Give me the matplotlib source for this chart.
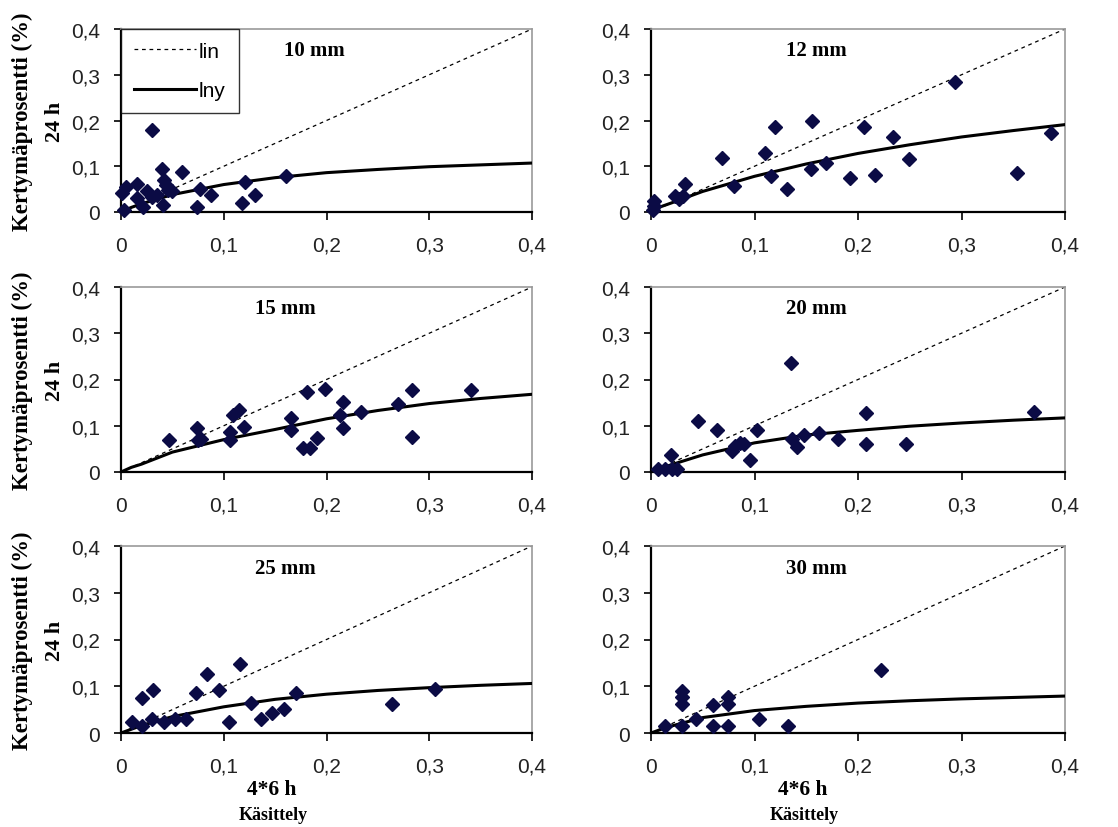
import matplotlib
matplotlib.use('Agg')
import matplotlib.pyplot as plt
from matplotlib.ticker import FuncFormatter
from matplotlib.lines import Line2D

SANS = ['Liberation Sans', 'DejaVu Sans']
SERIF = ['Liberation Serif', 'DejaVu Serif']
NAVY = '#0b0b45'

# ---------------------------------------------------------------- data
titles = ['10 mm', '12 mm', '15 mm', '20 mm', '25 mm', '30 mm']

x10 = [0.001, 0.005, 0.003, 0.016, 0.016, 0.021, 0.025, 0.030, 0.030, 0.035,
       0.040, 0.041, 0.042, 0.044, 0.046, 0.050, 0.059, 0.074, 0.077, 0.088,
       0.118, 0.121, 0.130, 0.161]
y10 = [0.041, 0.054, 0.004, 0.062, 0.030, 0.012, 0.045, 0.179, 0.033, 0.038,
       0.094, 0.016, 0.070, 0.059, 0.048, 0.045, 0.088, 0.010, 0.051, 0.038,
       0.020, 0.065, 0.038, 0.079]

x12 = [0.003, 0.003, 0.002, 0.023, 0.027, 0.031, 0.033, 0.069, 0.080, 0.110,
       0.116, 0.120, 0.131, 0.155, 0.156, 0.169, 0.192, 0.206, 0.216, 0.234,
       0.249, 0.294, 0.354, 0.386]
y12 = [0.024, 0.013, 0.005, 0.035, 0.028, 0.035, 0.061, 0.119, 0.057, 0.128,
       0.078, 0.185, 0.050, 0.093, 0.200, 0.108, 0.074, 0.185, 0.081, 0.165,
       0.116, 0.284, 0.085, 0.173]

x15 = [0.047, 0.074, 0.075, 0.078, 0.106, 0.106, 0.109, 0.115, 0.120, 0.165,
       0.165, 0.177, 0.184, 0.191, 0.181, 0.199, 0.213, 0.216, 0.216, 0.234,
       0.270, 0.283, 0.283, 0.341]
y15 = [0.069, 0.096, 0.069, 0.072, 0.087, 0.069, 0.124, 0.134, 0.098, 0.091,
       0.116, 0.051, 0.051, 0.074, 0.174, 0.179, 0.123, 0.151, 0.096, 0.129,
       0.148, 0.178, 0.076, 0.178]

x20 = [0.007, 0.014, 0.020, 0.025, 0.019, 0.045, 0.064, 0.078, 0.081, 0.086,
       0.090, 0.096, 0.102, 0.135, 0.136, 0.141, 0.148, 0.162, 0.181, 0.208,
       0.208, 0.246, 0.370]
y20 = [0.006, 0.006, 0.006, 0.006, 0.037, 0.110, 0.091, 0.045, 0.056, 0.063,
       0.060, 0.026, 0.091, 0.235, 0.072, 0.054, 0.080, 0.084, 0.071, 0.128,
       0.061, 0.061, 0.129]

x25 = [0.011, 0.020, 0.020, 0.031, 0.030, 0.042, 0.053, 0.063, 0.073, 0.084,
       0.095, 0.105, 0.116, 0.127, 0.136, 0.147, 0.159, 0.170, 0.264, 0.306]
y25 = [0.023, 0.016, 0.074, 0.093, 0.030, 0.023, 0.030, 0.030, 0.086, 0.126,
       0.093, 0.023, 0.148, 0.064, 0.030, 0.042, 0.051, 0.085, 0.062, 0.094]

x30 = [0.014, 0.030, 0.030, 0.030, 0.030, 0.043, 0.060, 0.060, 0.074, 0.074,
       0.074, 0.104, 0.132, 0.222]
y30 = [0.016, 0.090, 0.076, 0.062, 0.016, 0.030, 0.059, 0.015, 0.076, 0.062,
       0.015, 0.030, 0.015, 0.135]

# 1:1 reference line ("lin")
lin_x = [0, 0.4]
lin_y = [0, 0.4]

# logarithmic trend line ("lny")
fit_x = [0, 0.01, 0.02, 0.05, 0.1, 0.15, 0.2, 0.25, 0.3, 0.35, 0.4]
fit10 = [0, 0.010, 0.018, 0.038, 0.060, 0.075, 0.086, 0.093, 0.099, 0.103, 0.107]
fit12 = [0.005, 0.012, 0.020, 0.045, 0.078, 0.105, 0.128, 0.147, 0.164, 0.178, 0.191]
fit15 = [0, 0.010, 0.017, 0.043, 0.070, 0.092, 0.115, 0.133, 0.148, 0.159, 0.168]
fit20 = [0, 0.008, 0.016, 0.037, 0.063, 0.080, 0.090, 0.099, 0.106, 0.112, 0.117]
fit25 = [0, 0.008, 0.016, 0.035, 0.056, 0.072, 0.083, 0.091, 0.097, 0.102, 0.106]
fit30 = [0, 0.008, 0.015, 0.033, 0.048, 0.057, 0.064, 0.069, 0.073, 0.076, 0.079]

ticks = [0, 0.1, 0.2, 0.3, 0.4]

panels = [(x10, y10, fit10), (x12, y12, fit12), (x15, y15, fit15),
          (x20, y20, fit20), (x25, y25, fit25), (x30, y30, fit30)]

# ---------------------------------------------------------------- layout
fig = plt.figure(figsize=(11.18, 8.28), dpi=100)
fig.patch.set_facecolor('white')

W, H = 1118, 828
cols = [(121, 411), (651, 414)]
rows = [(30, 213), (288, 473), (547, 734)]

comma = FuncFormatter(lambda v, p: '0' if abs(v) < 1e-9 else f'{v:.1f}'.replace('.', ','))

axes = []
for i, (xs, ys, fit) in enumerate(panels):
    r, c = divmod(i, 2)
    left, width = cols[c]
    top, bottom = rows[r]
    ax = fig.add_axes([left / W, 1 - bottom / H, width / W, (bottom - top) / H])
    axes.append(ax)

    ax.plot(lin_x, lin_y, color='black', lw=0.9, ls=(0, (3, 3)), zorder=2)
    ax.plot(fit_x, fit, color='black', lw=2.2, zorder=3)
    ax.plot(xs, ys, ls='none', marker='D', ms=7.5, color=NAVY,
            markeredgecolor=NAVY, zorder=4, clip_on=False)

    ax.set_xlim(0, 0.4)
    ax.set_ylim(0, 0.4)
    ax.set_xticks(ticks)
    ax.set_yticks(ticks)
    ax.xaxis.set_major_formatter(comma)
    ax.yaxis.set_major_formatter(comma)
    ax.tick_params(axis='x', direction='out', length=6, width=1.2, pad=11,
                   labelsize=15, labelcolor='#222222')
    ax.tick_params(axis='y', direction='out', length=5, width=1.2, pad=10,
                   labelsize=15, labelcolor='#222222')
    for lab in ax.get_xticklabels() + ax.get_yticklabels():
        lab.set_family(SANS)
    for s in ('top', 'right'):
        ax.spines[s].set_color('#9a9a9a')
        ax.spines[s].set_linewidth(1.2)
    for s in ('left', 'bottom'):
        ax.spines[s].set_color('black')
        ax.spines[s].set_linewidth(1.6)

    tx = 0.47 if i == 0 else 0.40
    ax.text(tx, 0.885, titles[i], transform=ax.transAxes, ha='center',
            va='center', fontsize=15, fontweight='bold', family=SERIF)

    if c == 0:
        ax.text(-0.241, 0.5, 'Kertymäprosentti (%)', transform=ax.transAxes,
                rotation=90, ha='center', va='center', fontsize=16.5,
                fontweight='bold', family=SERIF)
        ax.text(-0.161, 0.5, '24 h', transform=ax.transAxes, rotation=90,
                ha='center', va='center', fontsize=16, fontweight='bold',
                family=SERIF)
    if r == 2:
        ax.text(0.366, -0.30, '4*6 h', transform=ax.transAxes, ha='center',
                va='center', fontsize=15.5, fontweight='bold', family=SERIF)
        ax.text(0.37, -0.435, 'Käsittely', transform=ax.transAxes,
                ha='center', va='center', fontsize=13, fontweight='bold',
                family=SERIF)

# legend in first panel
handles = [Line2D([], [], color='black', lw=0.9, ls=(0, (3, 3))),
           Line2D([], [], color='black', lw=2.2)]
leg = axes[0].legend(handles, ['lin', 'lny'], loc='upper left',
                     bbox_to_anchor=(0, 1), borderaxespad=0, frameon=True,
                     fancybox=False, handlelength=3.0, handletextpad=0.15,
                     borderpad=0.6, labelspacing=1.0,
                     prop={'family': SANS, 'size': 15})
leg.get_frame().set_edgecolor('black')
leg.get_frame().set_linewidth(1.0)

fig.savefig('out.png', dpi=100, facecolor='white')
